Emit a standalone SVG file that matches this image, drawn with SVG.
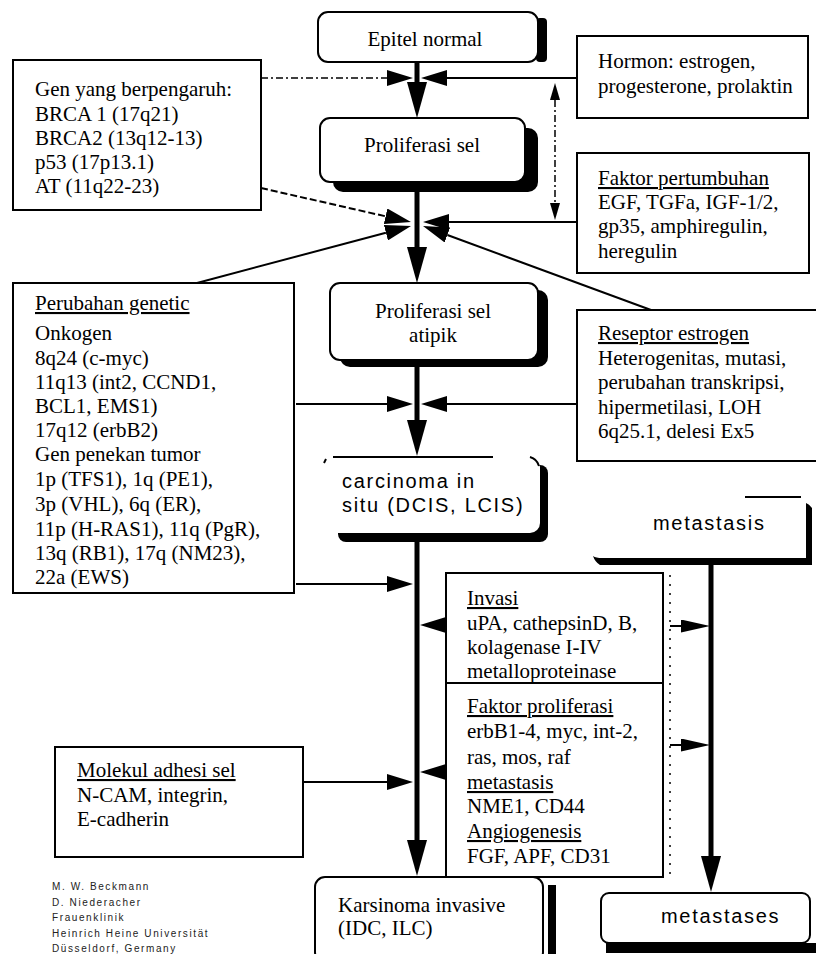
<svg xmlns="http://www.w3.org/2000/svg" width="816" height="954" viewBox="0 0 816 954">
<defs>
<style>
.box{fill:#fff;stroke:#000;stroke-width:2}
.wb{fill:#fff}
.sh{fill:#000}
.t{font-family:"Liberation Serif","Times New Roman",serif;font-size:21px;fill:#000}
.s{font-family:"Liberation Sans",Arial,sans-serif;font-size:20px;letter-spacing:1.7px;fill:#000}
.u{text-decoration:underline}
.ln{stroke:#000;stroke-width:2;fill:none}
.dl{stroke:#000;stroke-width:2;fill:none;stroke-dasharray:7 3}
.dd{stroke:#000;stroke-width:1.5;fill:none;stroke-dasharray:7 3 2 3}
.sp{stroke:#000;stroke-width:5;fill:none}
.dot{stroke:#000;stroke-width:1.5;fill:none;stroke-dasharray:2 7}
.ft{font-family:"Liberation Sans",Arial,sans-serif;font-size:10px;letter-spacing:1.6px;fill:#222}
</style>
<marker id="mS" markerUnits="userSpaceOnUse" viewBox="0 0 36 20" markerWidth="36" markerHeight="20" refX="0" refY="10" orient="auto"><path d="M0,0 L36,10 L0,20 Z"/></marker>
<marker id="mA" markerUnits="userSpaceOnUse" viewBox="0 0 26 16" markerWidth="26" markerHeight="16" refX="0" refY="8" orient="auto"><path d="M0,0 L26,8 L0,16 Z"/></marker>
<marker id="mM" markerUnits="userSpaceOnUse" viewBox="0 0 29 13" markerWidth="29" markerHeight="13" refX="0" refY="6.5" orient="auto"><path d="M0,0 L29,6.5 L0,13 Z"/></marker>
<marker id="mD" markerUnits="userSpaceOnUse" viewBox="0 0 17 10" markerWidth="17" markerHeight="10" refX="0" refY="5" orient="auto-start-reverse"><path d="M0,0 L17,5 L0,10 Z"/></marker>
</defs>
<rect x="0" y="0" width="816" height="954" fill="#fff"/>

<!-- connectors -->
<g id="connectors">
  <line class="sp" x1="417" y1="62" x2="417" y2="82" marker-end="url(#mS)"/>
  <line class="sp" x1="417" y1="192" x2="417" y2="247" marker-end="url(#mS)"/>
  <line class="sp" x1="417" y1="367" x2="417" y2="420" marker-end="url(#mS)"/>
  <line class="sp" x1="417" y1="542" x2="417" y2="840" marker-end="url(#mS)"/>
  <line class="sp" x1="711" y1="565" x2="711" y2="856" marker-end="url(#mS)"/>

  <line class="dd" x1="261" y1="78" x2="387" y2="78" marker-end="url(#mA)"/>
  <line class="ln" x1="577" y1="78" x2="447" y2="78" marker-end="url(#mA)"/>
  <line class="dd" x1="555" y1="100" x2="555" y2="203" marker-start="url(#mD)" marker-end="url(#mD)"/>

  <line class="dl" x1="261" y1="188" x2="385.6" y2="216.3" marker-end="url(#mA)"/>
  <line class="ln" x1="197" y1="283" x2="385.9" y2="232.7" marker-end="url(#mA)"/>
  <line class="ln" x1="577" y1="222" x2="449" y2="222" marker-end="url(#mA)"/>
  <line class="ln" x1="651" y1="310" x2="447.4" y2="235" marker-end="url(#mA)"/>

  <line class="ln" x1="296" y1="404" x2="387" y2="404" marker-end="url(#mA)"/>
  <line class="ln" x1="577" y1="404" x2="447" y2="404" marker-end="url(#mA)"/>

  <line class="ln" x1="296" y1="584" x2="387" y2="584" marker-end="url(#mA)"/>
  <path class="ln" d="M447,625 L446,625" marker-end="url(#mA)"/>
  <path class="ln" d="M447,772 L446,772" marker-end="url(#mA)"/>
  <line class="ln" x1="303" y1="782" x2="387" y2="782" marker-end="url(#mA)"/>

  <line class="ln" x1="670" y1="626" x2="681" y2="626" marker-end="url(#mM)"/>
  <line class="ln" x1="670" y1="745" x2="681" y2="745" marker-end="url(#mM)"/>
</g>

<!-- main flow nodes -->
<g id="epitel-normal">
  <rect class="sh" x="536" y="18" width="11" height="44" rx="4"/>
  <rect class="box" x="318" y="12" width="220" height="50" rx="10"/>
  <text class="t" x="425" y="46" text-anchor="middle">Epitel normal</text>
</g>

<g id="proliferasi-sel">
  <rect class="sh" x="333" y="128" width="205" height="64" rx="10"/>
  <rect class="box" x="320" y="118" width="205" height="64" rx="10"/>
  <text class="t" x="422" y="152" text-anchor="middle">Proliferasi sel</text>
</g>

<g id="proliferasi-atipik">
  <rect class="sh" x="340" y="290" width="208" height="77" rx="10"/>
  <rect class="box" x="330" y="283" width="208" height="77" rx="10"/>
  <text class="t" x="433" y="318" text-anchor="middle">Proliferasi sel</text>
  <text class="t" x="433" y="342" text-anchor="middle">atipik</text>
</g>

<g id="carcinoma-in-situ">
  <rect class="sh" x="338" y="465" width="210" height="77" rx="8"/>
  <rect class="wb" x="328" y="457" width="212" height="76" rx="10"/>
  <line class="ln" x1="333" y1="457" x2="493" y2="457"/>
  <path class="ln" d="M530,457 Q537,459 539,466"/>
  <line class="ln" x1="324" y1="463" x2="326" y2="459"/>
  <text class="s" x="342" y="488">carcinoma in</text>
  <text class="s" x="342" y="512">situ (DCIS, LCIS)</text>
</g>

<g id="karsinoma-invasive">
  <rect class="sh" x="548" y="885" width="8" height="69"/>
  <rect class="box" x="315" y="877" width="228" height="85" rx="10"/>
  <text class="t" x="338" y="912">Karsinoma invasive</text>
  <text class="t" x="338" y="935">(IDC, ILC)</text>
</g>

<g id="metastasis">
  <path class="sh" d="M593,556 Q596,558 602,558 L806,558 L806,503 Q809,504 812,508 L812,565 L600,565 Q595,562 593,556 Z"/>
  <line class="ln" x1="745" y1="497" x2="801" y2="497"/>
  <text class="s" x="653" y="530">metastasis</text>
</g>

<g id="metastases">
  <rect class="sh" x="606" y="943" width="210" height="10"/>
  <rect class="box" x="601" y="893" width="209" height="50" rx="8"/>
  <text class="s" x="661" y="923">metastases</text>
</g>

<!-- factor boxes -->
<g id="gen-berpengaruh">
  <rect class="box" x="13" y="60" width="248" height="150"/>
  <text class="t" x="35" y="96">Gen yang berpengaruh:</text>
  <text class="t" x="35" y="121">BRCA 1 (17q21)</text>
  <text class="t" x="35" y="145">BRCA2 (13q12-13)</text>
  <text class="t" x="35" y="169">p53 (17p13.1)</text>
  <text class="t" x="35" y="193">AT (11q22-23)</text>
</g>

<g id="hormon">
  <rect class="box" x="577" y="36" width="231" height="82"/>
  <text class="t" x="598" y="68">Hormon: estrogen,</text>
  <text class="t" x="598" y="93">progesterone, prolaktin</text>
</g>

<g id="faktor-pertumbuhan">
  <rect class="box" x="577" y="153" width="232" height="120"/>
  <text class="t u" x="598" y="185">Faktor pertumbuhan</text>
  <text class="t" x="598" y="209">EGF, TGFa, IGF-1/2,</text>
  <text class="t" x="598" y="233">gp35, amphiregulin,</text>
  <text class="t" x="598" y="258">heregulin</text>
</g>

<g id="reseptor-estrogen">
  <rect class="box" x="577" y="310" width="250" height="151"/>
  <text class="t u" x="598" y="340">Reseptor estrogen</text>
  <text class="t" x="598" y="365">Heterogenitas, mutasi,</text>
  <text class="t" x="598" y="389">perubahan transkripsi,</text>
  <text class="t" x="598" y="414">hipermetilasi, LOH</text>
  <text class="t" x="598" y="438">6q25.1, delesi Ex5</text>
</g>

<g id="perubahan-genetic">
  <rect class="box" x="13" y="283" width="281" height="310"/>
  <text class="t u" x="35" y="310">Perubahan genetic</text>
  <text class="t" x="35" y="340">Onkogen</text>
  <text class="t" x="35" y="365">8q24 (c-myc)</text>
  <text class="t" x="35" y="389">11q13 (int2, CCND1,</text>
  <text class="t" x="35" y="413">BCL1, EMS1)</text>
  <text class="t" x="35" y="437">17q12 (erbB2)</text>
  <text class="t" x="35" y="461">Gen penekan tumor</text>
  <text class="t" x="35" y="486">1p (TFS1), 1q (PE1),</text>
  <text class="t" x="35" y="511">3p (VHL), 6q (ER),</text>
  <text class="t" x="35" y="536">11p (H-RAS1), 11q (PgR),</text>
  <text class="t" x="35" y="560">13q (RB1), 17q (NM23),</text>
  <text class="t" x="35" y="584">22a (EWS)</text>
</g>

<g id="invasi">
  <rect class="box" x="446" y="573" width="217" height="110"/>
  <line class="dot" x1="670" y1="575" x2="670" y2="877"/>
  <text class="t u" x="467" y="605">Invasi</text>
  <text class="t" x="467" y="630">uPA, cathepsinD, B,</text>
  <text class="t" x="467" y="654">kolagenase I-IV</text>
  <text class="t" x="467" y="678">metalloproteinase</text>
</g>

<g id="faktor-proliferasi">
  <rect class="box" x="446" y="683" width="217" height="194"/>
  <text class="t u" x="467" y="713">Faktor proliferasi</text>
  <text class="t" x="467" y="738">erbB1-4, myc, int-2,</text>
  <text class="t" x="467" y="764">ras, mos, raf</text>
  <text class="t u" x="467" y="789">metastasis</text>
  <text class="t" x="467" y="813">NME1, CD44</text>
  <text class="t u" x="467" y="838">Angiogenesis</text>
  <text class="t" x="467" y="863">FGF, APF, CD31</text>
</g>

<g id="molekul-adhesi">
  <rect class="box" x="55" y="747" width="248" height="110"/>
  <text class="t u" x="77" y="777">Molekul adhesi sel</text>
  <text class="t" x="77" y="802">N-CAM, integrin,</text>
  <text class="t" x="77" y="826">E-cadherin</text>
</g>

<g id="credit">
  <text class="ft" x="52" y="890">M. W. Beckmann</text>
  <text class="ft" x="52" y="906">D. Niederacher</text>
  <text class="ft" x="52" y="921">Frauenklinik</text>
  <text class="ft" x="52" y="937">Heinrich Heine Universität</text>
  <text class="ft" x="52" y="952">Düsseldorf, Germany</text>
</g>
</svg>
